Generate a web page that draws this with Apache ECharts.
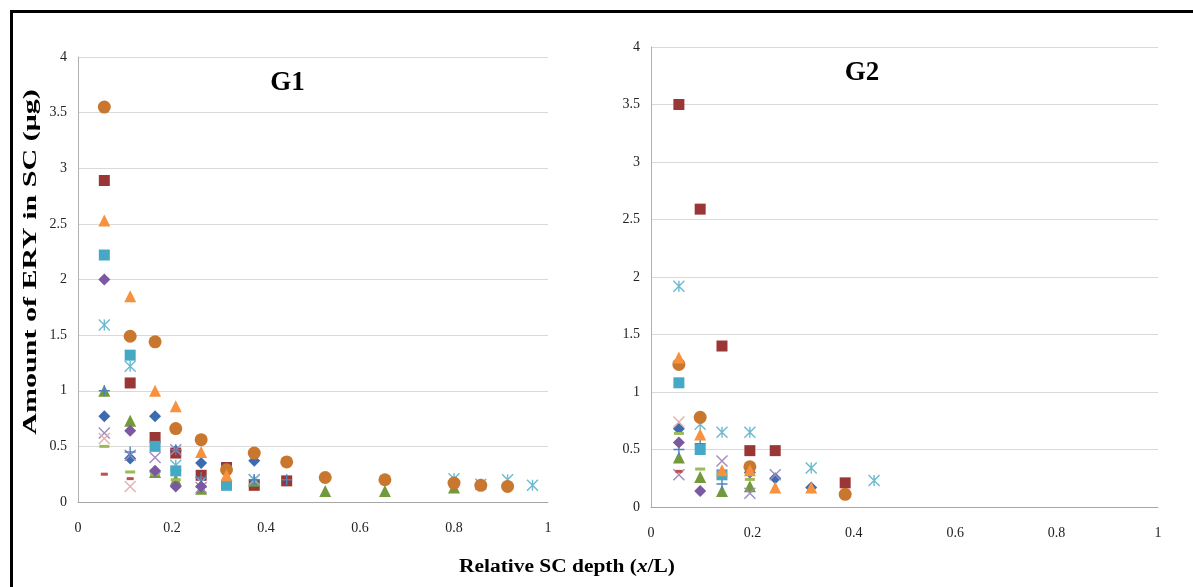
<!DOCTYPE html>
<html>
<head>
<meta charset="utf-8">
<script src="https://cdn.jsdelivr.net/npm/echarts@6/dist/echarts.min.js"></script>
<style>
html,body{margin:0;padding:0;background:#fff;}
#chart{width:1193px;height:587px;}
</style>
</head>
<body>
<div id="chart"></div>
<script>
// ---- Data ----
const xTicks = [0, 0.2, 0.4, 0.6, 0.8, 1];
const yTicks = [0, 0.5, 1, 1.5, 2, 2.5, 3, 3.5, 4];

// Relative SC depth (x/L) of each tape strip
const g1Depth = [0.056, 0.111, 0.164, 0.208, 0.262, 0.316, 0.375, 0.444, 0.526, 0.653, 0.800, 0.857, 0.914, 0.967];
const g2Depth = [0.055, 0.097, 0.140, 0.195, 0.245, 0.316, 0.383, 0.440];

// Amount of ERY in SC (µg), G1 (one array per subject)
const g1BlueDiamond   = [0.77, 0.39, 0.77, 0.46, 0.35, null, 0.37, null, null, null, null, null, null, null];
const g1RedSquare     = [2.89, 1.07, 0.58, 0.44, 0.24, 0.31, 0.15, 0.19, null, null, null, null, null, null];
const g1GreenTriangle = [1.00, 0.73, 0.27, 0.20, 0.12, null, 0.19, null, 0.10, 0.10, 0.13, null, null, null];
const g1LavenderX     = [0.62, 0.42, 0.40, 0.47, 0.13, null, 0.20, null, null, null, null, null, null, null];
const g1PinkX         = [0.57, 0.14, null, null, null, null, null, null, null, null, null, null, null, null];
const g1AquaAsterisk  = [1.59, 1.22, null, 0.33, 0.18, null, 0.20, null, null, null, 0.21, 0.16, 0.20, 0.15];
const g1OrangeCircle  = [3.55, 1.49, 1.44, 0.66, 0.56, 0.29, 0.44, 0.36, 0.22, 0.20, 0.17, 0.15, 0.14, null];
const g1BluePlus      = [1.00, 0.45, 0.27, 0.47, 0.22, null, 0.20, 0.20, null, null, null, null, null, null];
const g1GreenDash     = [0.50, 0.27, 0.25, 0.20, 0.14, null, null, null, null, null, null, null, null, null];
const g1RedDash       = [0.25, 0.21, null, null, null, null, null, null, null, null, null, null, null, null];
const g1PurpleDiamond = [2.00, 0.64, 0.28, 0.14, 0.14, null, null, null, null, null, null, null, null, null];
const g1AquaSquare    = [2.22, 1.32, 0.50, 0.28, null, 0.15, null, null, null, null, null, null, null, null];
const g1OrangeTri     = [2.53, 1.85, 1.00, 0.86, 0.45, 0.24, null, null, null, null, null, null, null, null];

// Amount of ERY in SC (µg), G2
const g2BlueDiamond   = [0.68, null, null, 0.30, 0.25, 0.17, null, null];
const g2RedSquare     = [3.50, 2.59, 1.40, 0.49, 0.49, null, 0.21, null];
const g2GreenTriangle = [0.43, 0.26, 0.14, 0.18, null, null, null, null];
const g2LavenderX     = [0.28, null, 0.40, 0.12, 0.28, null, null, null];
const g2PinkX         = [0.74, null, null, null, null, null, null, null];
const g2AquaAsterisk  = [1.92, 0.72, 0.65, 0.65, null, 0.34, null, 0.23];
const g2OrangeCircle  = [1.24, 0.78, null, 0.35, null, null, 0.11, null];
const g2BluePlus      = [0.50, 0.55, 0.20, 0.30, null, null, null, null];
const g2GreenDash     = [0.64, 0.33, null, 0.24, null, null, null, null];
const g2RedDash       = [0.31, null, null, null, null, null, null, null];
const g2PurpleDiamond = [0.56, 0.14, null, null, null, null, null, null];
const g2AquaSquare    = [1.08, 0.50, 0.28, null, null, null, null, null];
const g2OrangeTri     = [1.30, 0.63, 0.32, 0.32, 0.17, 0.17, null, null];

// ---- Styles ----
const P_X = 'path://M0,0L10,10M10,0L0,10';
const P_AST = 'path://M0,0L10,10M10,0L0,10M5,0L5,10';
const P_PLUS = 'path://M5,0L5,10M0,5L10,5';

const styles = [
  {name:'S1', sym:'diamond', size:12, color:'#3C6BB0'},
  {name:'S2', sym:'rect', size:11, color:'#9B3636'},
  {name:'S3', sym:'triangle', size:12, color:'#73993D'},
  {name:'S4', sym:P_X, size:11, color:'#A08BC0', stroke:true},
  {name:'S5', sym:P_X, size:11, color:'#E3B0AF', stroke:true},
  {name:'S6', sym:P_AST, size:11, color:'#6CBACF', stroke:true},
  {name:'S7', sym:'circle', size:13, color:'#C9772F'},
  {name:'S8', sym:P_PLUS, size:11, color:'#4F81BD', stroke:true},
  {name:'S9', sym:'rect', size:[10,3], color:'#9BBB59'},
  {name:'S10', sym:'rect', size:[7,3], color:'#C0504D'},
  {name:'S11', sym:'diamond', size:12, color:'#7A59A0'},
  {name:'S12', sym:'rect', size:11, color:'#45A8C4'},
  {name:'S13', sym:'triangle', size:12, color:'#F7913D'}
];
const g1Vals = [g1BlueDiamond,g1RedSquare,g1GreenTriangle,g1LavenderX,g1PinkX,g1AquaAsterisk,g1OrangeCircle,g1BluePlus,g1GreenDash,g1RedDash,g1PurpleDiamond,g1AquaSquare,g1OrangeTri];
const g2Vals = [g2BlueDiamond,g2RedSquare,g2GreenTriangle,g2LavenderX,g2PinkX,g2AquaAsterisk,g2OrangeCircle,g2BluePlus,g2GreenDash,g2RedDash,g2PurpleDiamond,g2AquaSquare,g2OrangeTri];

function pairs(depth, vals){
  const out=[];
  depth.forEach((d,i)=>{ if(vals[i]!=null) out.push([d, vals[i]]); });
  return out;
}
function mkSeries(gi, depth, valsList){
  return styles.map((s,k)=>({
    type:'scatter', name:s.name, xAxisIndex:gi, yAxisIndex:gi,
    symbol:s.sym, symbolSize:s.size,
    data:pairs(depth, valsList[k]),
    itemStyle: s.stroke ? {color:s.color, borderColor:s.color, borderWidth:1.4, opacity:1} : {color:s.color, opacity:1},
    emphasis:{disabled:true}, silent:true
  }));
}

const serif = 'Liberation Serif, Times New Roman, serif';
function xAx(gi){
  return {type:'value', gridIndex:gi, min:0, max:1, interval:0.2,
    axisLine:{show:true, lineStyle:{color:'#A6A6A6', width:1}}, axisTick:{show:false},
    splitLine:{show:false},
    axisLabel:{margin:19, fontFamily:serif, fontSize:14, color:'#222',
      formatter:v=>String(+v.toFixed(1))}};
}
function yAx(gi){
  return {type:'value', gridIndex:gi, min:0, max:4, interval:0.5,
    axisLine:{show:true, lineStyle:{color:'#B0B0B0', width:1}}, axisTick:{show:false},
    splitLine:{show:true, lineStyle:{color:'#D9D9D9', width:1}},
    axisLabel:{margin:11, fontFamily:serif, fontSize:14, color:'#222',
      formatter:v=>String(+v.toFixed(1))}};
}

const chart = echarts.init(document.getElementById('chart'), null, {renderer:'canvas'});
chart.setOption({
  backgroundColor:'#ffffff',
  animation:false,
  grid:[
    {left:78, top:57, width:470, height:445},
    {left:651, top:47, width:507, height:460}
  ],
  xAxis:[xAx(0), xAx(1)],
  yAxis:[yAx(0), yAx(1)],
  series:[...mkSeries(0, g1Depth, g1Vals), ...mkSeries(1, g2Depth, g2Vals)],
  graphic:[
    {type:'line', shape:{x1:10, y1:11.5, x2:1193, y2:11.5}, style:{stroke:'#000', lineWidth:3}},
    {type:'line', shape:{x1:11.5, y1:10, x2:11.5, y2:587}, style:{stroke:'#000', lineWidth:3}},
    {type:'text', x:287.5, y:83,
      style:{text:'G1', fontFamily:serif, fontWeight:'bold', fontSize:27, fill:'#000', align:'center', verticalAlign:'middle'}},
    {type:'text', x:862, y:73,
      style:{text:'G2', fontFamily:serif, fontWeight:'bold', fontSize:27, fill:'#000', align:'center', verticalAlign:'middle'}},
    {type:'text', x:31, y:262, rotation:Math.PI/2, scaleX:1.58,
      style:{text:'Amount of ERY in SC (μg)', fontFamily:serif, fontWeight:'bold', fontSize:19, fill:'#000', align:'center', verticalAlign:'middle'}},
    {type:'text', x:567, y:567, scaleX:1.19,
      style:{text:'{b|Relative SC depth (}{i|x}{b|/L)}', align:'center', verticalAlign:'middle',
        rich:{b:{fontFamily:serif, fontWeight:'bold', fontSize:18, fill:'#000'}, i:{fontFamily:serif, fontWeight:'bold', fontStyle:'italic', fontSize:18, fill:'#000'}}}}
  ]
});
</script>
</body>
</html>
